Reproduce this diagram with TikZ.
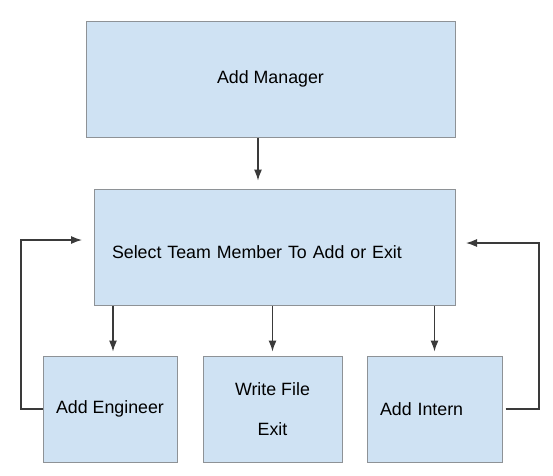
\documentclass[tikz,border=0pt]{standalone}
\usepackage{fontspec}
\setmainfont{Liberation Sans}
\usetikzlibrary{arrows.meta}
\definecolor{boxfill}{HTML}{CFE2F3}
\definecolor{boxline}{HTML}{8E9296}
\definecolor{wire}{HTML}{3A3A3A}
\begin{document}
\begin{tikzpicture}[x=1pt, y=-1pt,
    stage/.style={draw=boxline, fill=boxfill, line width=1pt, rectangle,
        font=\fontsize{17.8}{21}\selectfont, inner sep=0pt},
    link/.style={draw=wire, line width=1.2pt, -{Latex[length=11pt,width=8pt]}}]
    \useasboundingbox (0,0) rectangle (553,475);
    \node[stage, minimum width=369pt, minimum height=116pt] (mgr) at (270.5,79) {Add Manager};
    \node[stage, minimum width=361pt, minimum height=116pt, text width=325pt, text height=23pt, align=left, inner xsep=18pt] (sel) at (274.5,247) {Select Team Member To Add or Exit};
    \node[stage, minimum width=134pt, minimum height=106pt] (eng) at (110,409) {Add Engineer};
    \node[stage, minimum width=139pt, minimum height=106pt, align=center] (wrt) at (272.5,409) {Write File\\[19pt]Exit};
    \node[stage, minimum width=135pt, minimum height=106pt, text width=109pt, align=left, inner xsep=13pt] (int) at (434.5,409) {Add Intern};
    \coordinate (inL) at (82,240);
    \coordinate (inR) at (466,243);
    \draw[link, shorten >=8pt] (mgr.south -| 258,0) -- (sel.north -| 258,0);
    \draw[link, shorten >=4pt] (sel.south -| 113,0) -- (eng.north -| 113,0);
    \draw[link, shorten >=4pt] (sel.south -| wrt.north) -- (wrt.north);
    \draw[link, shorten >=4pt] (sel.south -| int.north) -- (int.north);
    % loops back up to the selection box
    \draw[link] (eng.west) -- (21,0 |- eng.west) |- (inL);
    \draw[link] ([xshift=3pt]int.east) -- (539,0 |- int.east) |- (inR);
\end{tikzpicture}
\end{document}
